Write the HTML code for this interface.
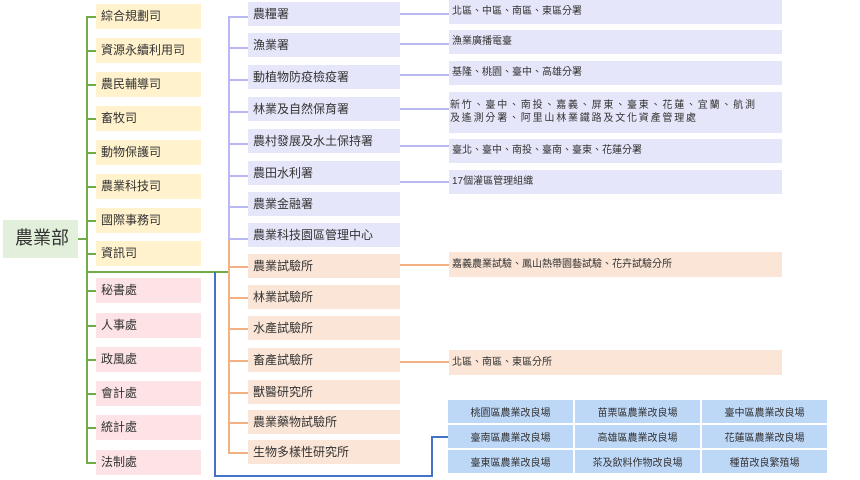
<!DOCTYPE html>
<html><head><meta charset="utf-8"><style>
body{margin:0;width:860px;height:480px;background:#fff;position:relative;overflow:hidden;font-family:"Liberation Sans","Noto Sans CJK TC",sans-serif;color:#333}
.b{position:absolute;box-sizing:border-box;font-size:12px;line-height:1.2;display:flex;align-items:center;padding-left:5px;white-space:nowrap}
.y{background:#fff2cc;left:96px;width:105px;height:25px}
.p{background:#fde3e5;left:96px;width:105px;height:25px}
.v{background:#e6e6fa;left:248px;width:152px;height:24px}
.o{background:#fbe5d6;left:248px;width:152px;height:24px}
.rv{background:#e6e6fa;left:449px;width:333px;height:24px;font-size:10px;padding-left:3px}
.ro{background:#fbe5d6;left:449px;width:333px;height:25px;font-size:10px;padding-left:3px}
.l{position:absolute}
.g td{background:#bdd7f7;font-size:10px;text-align:center;height:23px;padding:0;color:#333}
</style></head><body>
<div class="b" style="left:3px;top:220px;width:75px;height:38px;background:#e2efda;font-size:18px;padding-left:12px">農業部</div>
<div class="l" style="left:78px;top:238px;width:10px;height:2px;background:#70ad47"></div>
<div class="l" style="left:86px;top:16px;width:2px;height:448px;background:#70ad47"></div>
<div class="l" style="left:86px;top:271px;width:143px;height:2px;background:#70ad47"></div>
<div class="l" style="left:86px;top:16px;width:10px;height:2px;background:#70ad47;box-shadow:0 34px #70ad47,0 68px #70ad47,0 102px #70ad47,0 136px #70ad47,0 170px #70ad47,0 204px #70ad47,0 237px #70ad47,0 274px #70ad47,0 309px #70ad47,0 343px #70ad47,0 377px #70ad47,0 411px #70ad47,0 446px #70ad47"></div>
<div class="b y" style="top:4px">綜合規劃司</div>
<div class="b y" style="top:38px">資源永續利用司</div>
<div class="b y" style="top:72px">農民輔導司</div>
<div class="b y" style="top:106px">畜牧司</div>
<div class="b y" style="top:140px">動物保護司</div>
<div class="b y" style="top:174px">農業科技司</div>
<div class="b y" style="top:208px">國際事務司</div>
<div class="b y" style="top:241px">資訊司</div>
<div class="b p" style="top:278px">秘書處</div>
<div class="b p" style="top:313px">人事處</div>
<div class="b p" style="top:347px">政風處</div>
<div class="b p" style="top:381px">會計處</div>
<div class="b p" style="top:415px">統計處</div>
<div class="b p" style="top:450px">法制處</div>
<div class="l" style="left:228px;top:16px;width:2px;height:225px;background:#b8b8f2"></div>
<div class="l" style="left:228px;top:16px;width:20px;height:2px;background:#b8b8f2;box-shadow:0 31px #b8b8f2,0 63px #b8b8f2,0 95px #b8b8f2,0 127px #b8b8f2,0 159px #b8b8f2,0 190px #b8b8f2,0 222px #b8b8f2"></div>
<div class="l" style="left:228px;top:240px;width:2px;height:214px;background:#f4b183"></div>
<div class="l" style="left:228px;top:266px;width:20px;height:2px;background:#f4b183;box-shadow:0 31px #f4b183,0 62px #f4b183,0 94px #f4b183,0 126px #f4b183,0 156px #f4b183,0 186px #f4b183"></div>
<div class="b v" style="top:2px">農糧署</div>
<div class="b v" style="top:33px">漁業署</div>
<div class="b v" style="top:65px">動植物防疫檢疫署</div>
<div class="b v" style="top:97px">林業及自然保育署</div>
<div class="b v" style="top:129px">農村發展及水土保持署</div>
<div class="b v" style="top:161px">農田水利署</div>
<div class="b v" style="top:192px">農業金融署</div>
<div class="b v" style="top:223px">農業科技園區管理中心</div>
<div class="b o" style="top:254px">農業試驗所</div>
<div class="b o" style="top:285px">林業試驗所</div>
<div class="b o" style="top:316px">水產試驗所</div>
<div class="b o" style="top:348px">畜產試驗所</div>
<div class="b o" style="top:380px">獸醫研究所</div>
<div class="b o" style="top:410px">農業藥物試驗所</div>
<div class="b o" style="top:440px">生物多樣性研究所</div>
<div class="l" style="left:400px;top:13px;width:49px;height:2px;background:#b8b8f2;box-shadow:0 30px #b8b8f2,0 61px #b8b8f2,0 95px #b8b8f2,0 132px #b8b8f2,0 168px #b8b8f2"></div>
<div class="l" style="left:400px;top:264px;width:49px;height:2px;background:#f4b183;box-shadow:0 97px #f4b183"></div>
<div class="b rv" style="top:0px">北區、中區、南區、東區分署</div>
<div class="b rv" style="top:30px">漁業廣播電臺</div>
<div class="b rv" style="top:61px">基隆、桃園、臺中、高雄分署</div>
<div class="b rv" style="top:92px;height:41px;line-height:1.25;padding-left:1px;letter-spacing:1.8px">新竹、臺中、南投、嘉義、屏東、臺東、花蓮、宜蘭、航測<br>及遙測分署、阿里山林業鐵路及文化資產管理處</div>
<div class="b rv" style="top:139px">臺北、臺中、南投、臺南、臺東、花蓮分署</div>
<div class="b rv" style="top:170px">17個灌區管理組織</div>
<div class="b ro" style="top:252px">嘉義農業試驗、鳳山熱帶園藝試驗、花卉試驗分所</div>
<div class="b ro" style="top:350px">北區、南區、東區分所</div>
<div class="l" style="left:214px;top:272px;width:2px;height:205px;background:#4472c4"></div>
<div class="l" style="left:214px;top:475px;width:219px;height:2px;background:#4472c4"></div>
<div class="l" style="left:431px;top:436px;width:2px;height:41px;background:#4472c4"></div>
<div class="l" style="left:431px;top:436px;width:17px;height:2px;background:#4472c4"></div>
<table class="g" style="position:absolute;left:446px;top:398px;width:383px;border-collapse:separate;border-spacing:2px 2px;table-layout:fixed">
<tr><td>桃園區農業改良場</td><td>苗栗區農業改良場</td><td>臺中區農業改良場</td></tr>
<tr><td>臺南區農業改良場</td><td>高雄區農業改良場</td><td>花蓮區農業改良場</td></tr>
<tr><td>臺東區農業改良場</td><td>茶及飲料作物改良場</td><td>種苗改良繁殖場</td></tr>
</table>
</body></html>
